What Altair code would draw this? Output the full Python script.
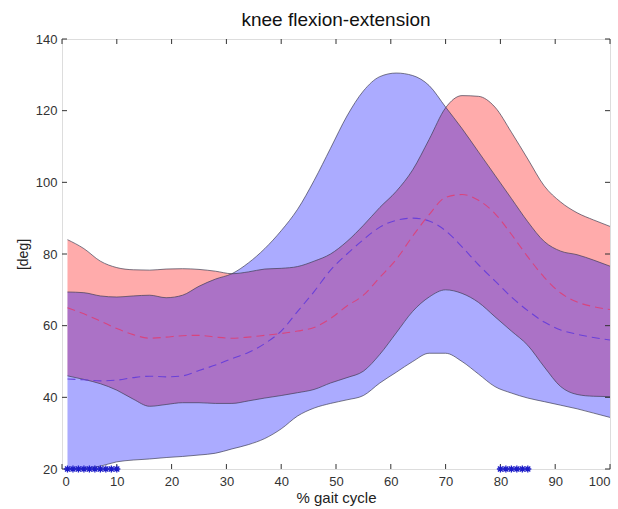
import altair as alt
import pandas as pd

# ---- data ----
X = [1, 4, 7, 10, 13, 16, 19, 22, 25, 28, 31, 34, 37, 40, 43, 46, 49, 52, 55, 58,
     61, 64, 67, 70, 73, 76, 79, 82, 85, 88, 91, 94, 97, 100]

red_upper = [84, 81.5, 78, 76.2, 75.6, 75.5, 75.8, 75.9, 75.7, 75.2, 74.5, 75, 75.8, 76, 76.5, 78, 80, 83.5, 88, 93,
             97.5, 103.5, 112, 120.8, 124.2, 124, 121, 114, 106.5, 99, 94.5, 91.5, 89.5, 87.7]
red_lower = [46, 45, 43.8, 42, 39.5, 37.5, 38, 38.5, 38.5, 38.3, 38.3, 39, 39.8, 40.5, 41.3, 42.2, 44, 45.5, 47.3, 52,
             58, 64, 68, 70, 69, 66.5, 62.5, 58.5, 54.5, 48.5, 43, 40.8, 40.3, 40.2]
blue_upper = [69.4, 69.2, 68.3, 68, 68.3, 68.5, 67.8, 68.5, 71, 73, 74.5, 77.5, 81.5, 86.5, 92.5, 100.5, 109.5, 118.5, 125.5, 129.5,
              130.5, 129.8, 127, 121, 115, 108.5, 102, 95.5, 89, 83.5, 80.8, 79.8, 78.3, 76.6]
blue_lower = [20, 20.2, 20.8, 22, 22.5, 22.8, 23.2, 23.5, 23.9, 24.4, 25.6, 26.8, 28.5, 31.2, 34.8, 37, 38.3, 39.3, 40.5, 44,
              47, 50, 52.3, 52.3, 50, 46.5, 43, 41.2, 39.8, 38.8, 37.8, 36.8, 35.6, 34.4]
red_mean = [65, 63.3, 61.3, 59.2, 57.5, 56.5, 56.8, 57.2, 57.3, 56.8, 56.5, 56.8, 57.3, 57.8, 58.5, 59.5, 62, 65.5, 68.5, 73.5,
            78.5, 85, 91, 95.8, 96.6, 95, 91.3, 85.5, 79.2, 73.5, 69.1, 66.6, 65.3, 64.5]
blue_mean = [45.1, 44.9, 44.6, 44.8, 45.5, 45.9, 45.7, 46, 47.5, 49, 50.8, 52.5, 55, 58.5, 64, 69.5, 75.5, 80, 84, 87.5,
             89.4, 90, 89.2, 86.5, 82, 77, 72.5, 68, 64.2, 61, 58.8, 57.6, 56.7, 56]

star_x = [1, 2, 3, 4, 5, 6, 7, 8, 9, 10, 80, 81, 82, 83, 84, 85]
star_y = [20] * len(star_x)

x_ticks = [0, 10, 20, 30, 40, 50, 60, 70, 80, 90, 100]
y_ticks = [20, 40, 60, 80, 100, 120, 140]

# ---- layout ----
W, H = 548, 430
FONT = "Liberation Sans"
AXC = "#333333"

df = pd.DataFrame({"x": X, "ru": red_upper, "rl": red_lower, "bu": blue_upper,
                   "bl": blue_lower, "rm": red_mean, "bm": blue_mean})
stars = pd.DataFrame({"x": star_x, "y": star_y})
xt = pd.DataFrame({"v": x_ticks})
yt = pd.DataFrame({"v": y_ticks})

xs = alt.Scale(domain=[0, 100], nice=False, zero=False)
ys = alt.Scale(domain=[20, 140], nice=False, zero=False)

xaxis = alt.Axis(values=x_ticks, ticks=False, domain=False, grid=False, labelFont=FONT,
                 labelFontSize=13, labelColor=AXC, labelPadding=6, title="% gait cycle",
                 titleFont=FONT, titleFontSize=15, titleFontWeight="normal", titleColor="#222",
                 titlePadding=2)
yaxis = alt.Axis(values=y_ticks, ticks=False, domain=False, grid=False, labelFont=FONT,
                 labelFontSize=13, labelColor=AXC, labelPadding=5, title="[deg]",
                 titleFont=FONT, titleFontSize=14, titleFontWeight="normal", titleColor="#222",
                 titlePadding=5)

base = alt.Chart(df)

red_band = base.mark_area(color="#ff0000", opacity=0.33, interpolate="monotone").encode(
    x=alt.X("x:Q", scale=xs, axis=xaxis), y=alt.Y("rl:Q", scale=ys, axis=yaxis), y2="ru:Q")
blue_band = base.mark_area(color="#0000ff", opacity=0.33, interpolate="monotone").encode(
    x=alt.X("x:Q", scale=xs), y=alt.Y("bl:Q", scale=ys), y2="bu:Q")

edges = []
for col in ["ru", "rl", "bu", "bl"]:
    edges.append(base.mark_line(color="#3c3c50", strokeWidth=0.8, opacity=0.85,
                                interpolate="monotone").encode(
        x=alt.X("x:Q", scale=xs), y=alt.Y(f"{col}:Q", scale=ys)))

red_line = base.mark_line(color="#d8457e", strokeWidth=1.1, strokeDash=[8, 5],
                          interpolate="monotone").encode(
    x=alt.X("x:Q", scale=xs), y=alt.Y("rm:Q", scale=ys))
blue_line = base.mark_line(color="#6a40d8", strokeWidth=1.1, strokeDash=[8, 5],
                           interpolate="monotone").encode(
    x=alt.X("x:Q", scale=xs), y=alt.Y("bm:Q", scale=ys))

star_path = "M-1,0L1,0M0,-1L0,1M-0.7,-0.7L0.7,0.7M-0.7,0.7L0.7,-0.7"
star_layer = alt.Chart(stars).mark_point(shape=star_path, size=50, filled=False,
                                         color="#1c1cc8", strokeWidth=1.3, opacity=1).encode(
    x=alt.X("x:Q", scale=xs), y=alt.Y("y:Q", scale=ys))

tick_len = 5
xt_bottom = alt.Chart(xt).mark_rule(color=AXC, strokeWidth=1).encode(
    x=alt.X("v:Q", scale=xs), y=alt.value(H), y2=alt.value(H - tick_len))
xt_top = alt.Chart(xt).mark_rule(color=AXC, strokeWidth=1).encode(
    x=alt.X("v:Q", scale=xs), y=alt.value(0), y2=alt.value(tick_len))
yt_left = alt.Chart(yt).mark_rule(color=AXC, strokeWidth=1).encode(
    y=alt.Y("v:Q", scale=ys), x=alt.value(0), x2=alt.value(tick_len))
yt_right = alt.Chart(yt).mark_rule(color=AXC, strokeWidth=1).encode(
    y=alt.Y("v:Q", scale=ys), x=alt.value(W), x2=alt.value(W - tick_len))

chart = alt.layer(
    red_band, blue_band, *edges, red_line, blue_line,
    xt_bottom, xt_top, yt_left, yt_right, star_layer
).properties(
    width=W, height=H,
    title=alt.Title("knee flexion-extension", font=FONT, fontSize=19, fontWeight="normal",
                    color="#111", anchor="middle", offset=3),
    autosize=alt.AutoSizeParams(type="none"),
    padding={"left": 62, "top": 39, "right": 8, "bottom": 40},
).configure_view(stroke="#444444", strokeWidth=1.2).configure(background="white")

chart.save("out.html", embed_options={"renderer": "svg", "actions": False})
